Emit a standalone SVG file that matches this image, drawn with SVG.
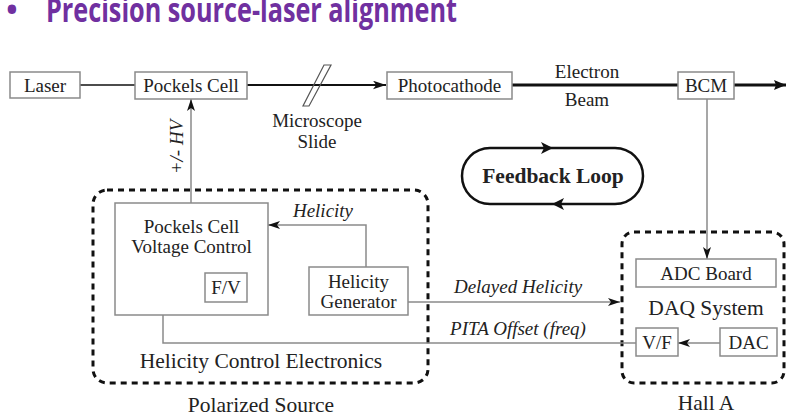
<svg xmlns="http://www.w3.org/2000/svg" width="787" height="417" viewBox="0 0 787 417">
<defs>
<style>
.t{font-family:"Liberation Serif","Times New Roman",serif;font-size:19px;fill:#222;text-anchor:middle}
.big{font-size:21.5px}
.it{font-style:italic}
.box{fill:#fff;stroke:#8a8a8a;stroke-width:1.5}
.dash{fill:none;stroke:#111;stroke-width:3;stroke-dasharray:6 5}
.g{fill:none;stroke:#8a8a8a;stroke-width:1.5}
.k{fill:none;stroke:#111}
</style>
<marker id="ag" viewBox="0 0 12 8" refX="12" refY="4" markerWidth="12" markerHeight="8" orient="auto" markerUnits="userSpaceOnUse"><path d="M0,0 L12,4 L0,8 L3,4z" fill="#111"/></marker>
<marker id="ak" viewBox="0 0 12 8" refX="12" refY="4" markerWidth="13" markerHeight="9" orient="auto" markerUnits="userSpaceOnUse"><path d="M0,0 L12,4 L0,8 L3,4z" fill="#111"/></marker>
<marker id="ab" viewBox="0 0 12 10" refX="12" refY="5" markerWidth="12" markerHeight="11" orient="auto" markerUnits="userSpaceOnUse"><path d="M0,0 L12,5 L0,10 L2,5z" fill="#111"/></marker>
</defs>
<rect width="787" height="417" fill="#fff"/>

<g id="title">
<text x="12" y="20" font-family="'Open Sans','DejaVu Sans',sans-serif" font-weight="bold" font-size="30" fill="#7030A0" text-anchor="middle">•</text>
<text x="46" y="22" font-family="'Open Sans','DejaVu Sans',sans-serif" font-weight="bold" font-size="34" fill="#7030A0" textLength="411" lengthAdjust="spacingAndGlyphs">Precision source-laser alignment</text>
</g>

<g id="groups">
<rect id="polarized-source" class="dash" x="93" y="190" width="335" height="193" rx="14"/>
<rect id="hall-a" class="dash" x="622" y="232" width="162" height="151" rx="12"/>
</g>

<g id="connectors">
<line class="k" x1="80" y1="85" x2="135" y2="85" stroke-width="1.5"/>
<line class="k" x1="247" y1="85" x2="386" y2="85" stroke-width="2" marker-end="url(#ak)"/>
<line class="k" x1="512" y1="85" x2="678" y2="85" stroke-width="3"/>
<line class="k" x1="734" y1="85" x2="786" y2="85" stroke-width="3" marker-end="url(#ab)"/>
<line class="g" x1="707" y1="99" x2="707" y2="259" marker-end="url(#ag)"/>
<line class="g" x1="191" y1="203" x2="191" y2="99" marker-end="url(#ag)"/>
<path class="g" d="M366,267 V225 H268" marker-end="url(#ag)"/>
<line class="g" x1="408" y1="302" x2="620" y2="302" marker-end="url(#ag)"/>
<line class="g" x1="720" y1="343" x2="678" y2="343" marker-end="url(#ag)"/>
<path class="g" d="M636,343 H163 V287 H205" marker-end="url(#ag)"/>
<text class="t it" transform="translate(183,147) rotate(-90)">+/- HV</text>
<text class="t it" x="323" y="217">Helicity</text>
<text class="t it" x="518" y="293">Delayed Helicity</text>
<text class="t it" x="518" y="335">PITA Offset (freq)</text>
<text class="t" x="587" y="78">Electron</text>
<text class="t" x="587" y="106">Beam</text>
</g>

<g id="laser"><rect class="box" x="10" y="72" width="70" height="26"/><text class="t" x="45" y="92">Laser</text></g>
<g id="pockels-cell"><rect class="box" x="135" y="72" width="112" height="27"/><text class="t" x="191" y="92">Pockels Cell</text></g>
<g id="microscope-slide">
<polygon points="324,65 331,65 309,106 303,106" fill="none" stroke="#555" stroke-width="1.2"/>
<text class="t" x="317" y="127">Microscope</text>
<text class="t" x="317" y="148">Slide</text>
</g>
<g id="photocathode"><rect class="box" x="387" y="72" width="125" height="27"/><text class="t" x="449.5" y="92">Photocathode</text></g>
<g id="bcm"><rect class="box" x="678" y="72" width="56" height="27"/><text class="t" x="706" y="92">BCM</text></g>

<g id="feedback-loop">
<path d="M490,148 H615 A28,28 0 0 1 615,204 H490 A28,28 0 0 1 490,148 Z" fill="none" stroke="#111" stroke-width="2.5"/>
<path d="M553,148 L541,142 L544,148 L541,154 Z" fill="#111"/>
<path d="M552,204 L564,198 L561,204 L564,210 Z" fill="#111"/>
<text class="t big" x="553" y="183" font-weight="bold">Feedback Loop</text>
</g>

<g id="pockels-cell-voltage-control"><rect class="box" x="115" y="203" width="153" height="112"/>
<text class="t" x="191.5" y="233">Pockels Cell</text><text class="t" x="191.5" y="253">Voltage Control</text></g>
<g id="fv"><rect class="box" x="205" y="273" width="42" height="29"/><text class="t" x="226" y="294">F/V</text></g>
<g id="helicity-generator"><rect class="box" x="309" y="267" width="99" height="48"/>
<text class="t" x="358.5" y="288">Helicity</text><text class="t" x="358.5" y="308">Generator</text></g>
<text class="t big" x="261" y="368">Helicity Control Electronics</text>
<text class="t big" x="261" y="412">Polarized Source</text>

<g id="adc-board"><rect class="box" x="636" y="259" width="140" height="28"/><text class="t" x="706" y="280">ADC Board</text></g>
<text class="t big" x="706" y="315">DAQ System</text>
<g id="vf"><rect class="box" x="636" y="328" width="42" height="28"/><text class="t" x="657" y="349">V/F</text></g>
<g id="dac"><rect class="box" x="720" y="328" width="57" height="28"/><text class="t" x="748.5" y="349">DAC</text></g>
<text class="t big" x="706" y="410">Hall A</text>
</svg>
